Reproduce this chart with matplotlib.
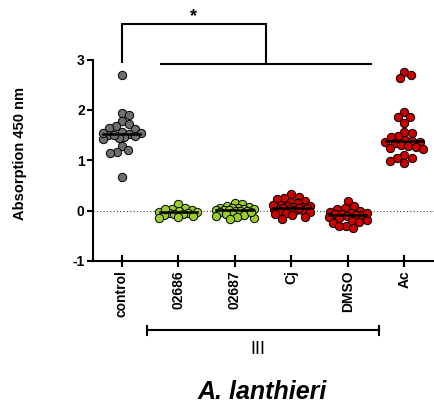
import numpy as np
import matplotlib
matplotlib.use("Agg")
import matplotlib.pyplot as plt
from matplotlib.transforms import blended_transform_factory

plt.rcParams['font.family'] = ['Liberation Sans', 'DejaVu Sans']

categories = ["control", "02686", "02687", "Cj", "DMSO", "Ac"]
control = [2.70, 1.95, 1.90, 1.79, 1.73, 1.68, 1.65, 1.63, 1.56, 1.54, 1.52, 1.50,
           1.47, 1.43, 1.45, 1.49, 1.51, 1.55, 1.28, 1.16, 1.15, 1.20, 0.67]
s02686 = [0.13, 0.05, 0.04, 0.02, 0.00, -0.02, -0.03, -0.04, -0.05, -0.06, -0.06,
          -0.08, -0.10, -0.12, -0.14, 0.03]
s02687 = [0.15, 0.14, 0.10, 0.07, 0.06, 0.06, 0.05, 0.04, 0.02, 0.01, 0.01, 0.00,
          0.00, -0.01, -0.02, -0.04, -0.06, -0.08, -0.10, -0.12, -0.14, -0.17, 0.03, -0.03]
cj = [0.33, 0.28, 0.26, 0.24, 0.20, 0.18, 0.15, 0.12, 0.10, 0.09, 0.08, 0.07, 0.06,
      0.05, 0.05, 0.04, 0.03, 0.02, 0.01, 0.00, -0.02, -0.04, -0.06, -0.08, -0.12,
      -0.17, 0.11, 0.06]
dmso = [0.19, 0.10, 0.05, 0.03, 0.00, -0.02, -0.04, -0.06, -0.07, -0.08, -0.08,
        -0.10, -0.12, -0.15, -0.18, -0.20, -0.22, -0.25, -0.30, -0.30, -0.35, -0.05]
ac = [2.76, 2.69, 2.63, 1.96, 1.86, 1.86, 1.75, 1.57, 1.55, 1.48, 1.47, 1.40, 1.38,
      1.37, 1.36, 1.34, 1.30, 1.28, 1.26, 1.25, 1.22, 1.10, 1.05, 1.04, 0.98, 0.95]
series = [control, s02686, s02687, cj, dmso, ac]
colors = ["#6e6e6e", "#9acd2a", "#9acd2a", "#cc0000", "#cc0000", "#cc0000"]
yticks = [-1, 0, 1, 2, 3]
group_label = "III"
title = "A. lanthieri"
ylabel = "Absorption 450 nm"

W, H = 434, 408
fig = plt.figure(figsize=(W / 100, H / 100), dpi=100)
ax_left, ax_right, ax_bottom = 93 / W, 1.0, 1 - 261 / H
ax = fig.add_axes([ax_left, ax_bottom, ax_right - ax_left, 1 - ax_bottom])
xlim = (-0.508, 5.527)
ylim = (-1.0, 4.185)
ax.set_xlim(*xlim)
ax.set_ylim(*ylim)

# pixel scales for beeswarm
px_x = (ax_right - ax_left) * W / (xlim[1] - xlim[0])
px_y = (1 - ax_bottom) * H / (ylim[1] - ylim[0])
diam = 7.5
maxw = 19.0


def beeswarm(vals):
    order = np.argsort(vals)[::-1]
    placed = []
    offs = np.zeros(len(vals))
    cands = [0.0]
    for k in range(1, int(maxw / 0.5) + 1):
        cands += [k * 0.5, -k * 0.5]
    for idx in order:
        yv = vals[idx] * px_y
        best, best_d = 0.0, -1
        chosen = None
        for c in cands:
            d = min([np.hypot(c - px, yv - py) for px, py in placed] + [1e9])
            if d >= diam:
                chosen = c
                break
            if d > best_d:
                best, best_d = c, d
        if chosen is None:
            chosen = best
        placed.append((chosen, yv))
        offs[idx] = chosen
    return offs / px_x


for i, (vals, col) in enumerate(zip(series, colors)):
    vals = np.array(vals)
    offs = beeswarm(vals)
    ax.scatter(i + offs, vals, s=36, facecolor=col, edgecolor="black",
               linewidth=0.7, zorder=3, clip_on=False)
    med = np.median(vals)
    ax.plot([i - 0.33, i + 0.33], [med, med], color="black", lw=1.8, zorder=4)

# zero reference line
ax.axhline(0, color="#444444", lw=0.8, ls=(0, (1, 2)), zorder=1)

# spines
for s in ["top", "right"]:
    ax.spines[s].set_visible(False)
ax.spines["left"].set_bounds(-1, 3)
ax.spines["left"].set_linewidth(1.5)
ax.spines["bottom"].set_linewidth(1.5)
ax.set_yticks(yticks)
ax.set_yticklabels([str(t) for t in yticks], fontweight="bold", fontsize=10)
ax.set_xticks(range(len(categories)))
ax.set_xticklabels(categories, rotation=90, fontweight="bold", fontsize=10)
ax.tick_params(axis="y", direction="out", length=4, width=1.5, pad=2)
ax.tick_params(axis="x", direction="inout", length=9, width=1.5, pad=2)
ax.set_ylabel(ylabel, fontweight="bold", fontsize=10.5)
ax.yaxis.set_label_coords(-(93 - 27) / (W * (ax_right - ax_left)), 1 - 154 / 261)

# significance bracket
ax.plot([0, 0, 2.55, 2.55], [2.96, 3.71, 3.71, 2.96], color="black", lw=1.5,
        clip_on=False, solid_joinstyle="miter")
ax.plot([0.69, 4.41], [2.91, 2.91], color="black", lw=1.5, clip_on=False)
ax.text(1.27, 3.69, "*", ha="center", va="bottom", fontsize=13, fontweight="bold")

# group bracket below axis
tr = blended_transform_factory(ax.transData, fig.transFigure)
yb = 1 - 330 / H
cap = 4.5 / H
ax.plot([0.44, 4.55], [yb, yb], color="black", lw=1.5, transform=tr, clip_on=False)
for xc in (0.44, 4.55):
    ax.plot([xc, xc], [yb - cap, yb + cap], color="black", lw=1.5, transform=tr,
            clip_on=False)
ax.text(2.41, 1 - 350 / H, group_label, transform=tr, ha="center", va="center",
        fontsize=13)
ax.text(2.49, 1 - 392 / H, title, transform=tr, ha="center", va="center",
        fontsize=18, fontweight="bold", fontstyle="italic")

fig.savefig("out.png", dpi=100)
